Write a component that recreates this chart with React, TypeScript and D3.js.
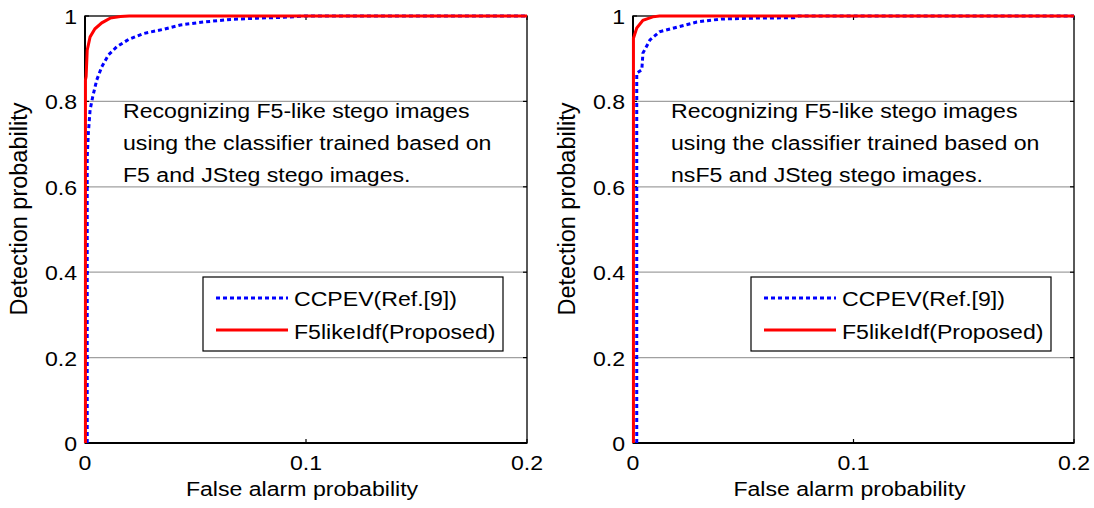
import React from "react";
import * as d3 from "d3";

// axis ticks
const xTicks = [0, 0.1, 0.2];
const yTicks = [0, 0.2, 0.4, 0.6, 0.8, 1];
const gridTicks = [0.2, 0.4, 0.6, 0.8];
const seriesNames = ["CCPEV(Ref.[9])", "F5likeIdf(Proposed)"];

// left panel: classifier trained on F5 + JSteg
const leftCcpevX = [0.001, 0.001, 0.0015, 0.0023, 0.0035, 0.0053, 0.0076, 0.0106, 0.0144, 0.0197, 0.0265, 0.0356, 0.0432, 0.0538, 0.066, 0.078, 0.09, 0.1, 0.2];
const leftCcpevY = [0, 0.67, 0.725, 0.78, 0.811, 0.85, 0.881, 0.909, 0.928, 0.945, 0.959, 0.969, 0.979, 0.986, 0.992, 0.995, 0.997, 1, 1];
const leftPropX = [0.0002, 0.0002, 0.0005, 0.001, 0.0023, 0.0045, 0.0076, 0.0114, 0.016, 0.02, 0.2];
const leftPropY = [0, 0.85, 0.858, 0.92, 0.951, 0.97, 0.984, 0.995, 0.999, 1, 1];

// right panel: classifier trained on nsF5 + JSteg
const rightCcpevX = [0.0017, 0.0017, 0.004, 0.0045, 0.0077, 0.012, 0.02, 0.029, 0.04, 0.055, 0.073, 0.075, 0.2];
const rightCcpevY = [0, 0.866, 0.874, 0.913, 0.944, 0.963, 0.974, 0.986, 0.993, 0.995, 0.996, 1, 1];
const rightPropX = [0.0002, 0.0002, 0.0017, 0.0045, 0.009, 0.012, 0.2];
const rightPropY = [0, 0.948, 0.972, 0.99, 0.998, 1, 1];

const leftNote = ["Recognizing F5-like stego images", "using the classifier trained based on", "F5 and JSteg stego images."];
const rightNote = ["Recognizing F5-like stego images", "using the classifier trained based on", "nsF5 and JSteg stego images."];

const FONT = "'Liberation Sans', Arial, sans-serif";
const FS = 21;
const SX = 1.1; // the original is a bit stretched sideways

function T({ x, y, anchor = "start", children }: any) {
  return (
    <text transform={`translate(${x},${y}) scale(${SX},1)`} textAnchor={anchor}
      fontFamily={FONT} fontSize={FS} fill="#000">
      {children}
    </text>
  );
}

function Panel({ x0, x1, cx, cy, px, py, note }: any) {
  const top = 16, bottom = 443;
  const x = d3.scaleLinear().domain([0, 0.2]).range([x0, x1]);
  const y = d3.scaleLinear().domain([0, 1]).range([bottom, top]);
  const path = (xs: number[], ys: number[]) =>
    d3.line<number>().x((d) => x(d)).y((_, i) => y(ys[i]))(xs) as string;

  const lx = x0 + 118, ly = 277, lw = 300, lh = 74;

  return (
    <g>
      {gridTicks.map((t) => (
        <line key={t} x1={x0} x2={x1} y1={y(t)} y2={y(t)} stroke="#a0a0a0" strokeWidth={1.2} />
      ))}
      {/* box */}
      <rect x={x0} y={top} width={x1 - x0} height={bottom - top} fill="none" stroke="#222" strokeWidth={1.5} />
      <line x1={x0} x2={x0} y1={top} y2={bottom} stroke="#000" strokeWidth={2} />
      <line x1={x0} x2={x1} y1={bottom} y2={bottom} stroke="#000" strokeWidth={2} />
      {yTicks.map((t) => (
        <g key={t}>
          <line x1={x0} x2={x0 + 4} y1={y(t)} y2={y(t)} stroke="#000" strokeWidth={1.2} />
          <line x1={x1} x2={x1 - 4} y1={y(t)} y2={y(t)} stroke="#000" strokeWidth={1.2} />
          <T x={x0 - 8} y={y(t) + 8} anchor="end">{d3.format("~g")(t)}</T>
        </g>
      ))}
      {xTicks.map((t) => (
        <g key={t}>
          <line x1={x(t)} x2={x(t)} y1={bottom} y2={bottom - 4} stroke="#000" strokeWidth={1.2} />
          <line x1={x(t)} x2={x(t)} y1={top} y2={top + 4} stroke="#000" strokeWidth={1.2} />
          <T x={x(t)} y={470} anchor="middle">{d3.format("~g")(t)}</T>
        </g>
      ))}
      <T x={(x0 + x1) / 2 - 4} y={496} anchor="middle">False alarm probability</T>
      <text transform={`translate(${x0 - 58},209) rotate(-90)`} textAnchor="middle"
        fontFamily={FONT} fontSize={23.5} fill="#000">Detection probability</text>

      {note.map((s: string, i: number) => (
        <T key={i} x={x0 + 38} y={118 + i * 32}>{s}</T>
      ))}

      <path d={path(cx, cy)} fill="none" stroke="#0000ff" strokeWidth={3} strokeDasharray="4 3" />
      <path d={path(px, py)} fill="none" stroke="#ff0000" strokeWidth={3} />

      <rect x={lx} y={ly} width={lw} height={lh} fill="#fff" stroke="#000" strokeWidth={1.2} />
      <line x1={lx + 13} x2={lx + 85} y1={ly + 21} y2={ly + 21} stroke="#0000ff" strokeWidth={3} strokeDasharray="4 3" />
      <line x1={lx + 13} x2={lx + 85} y1={ly + 53} y2={ly + 53} stroke="#ff0000" strokeWidth={3} />
      <T x={lx + 91} y={ly + 29}>{seriesNames[0]}</T>
      <T x={lx + 91} y={ly + 62}>{seriesNames[1]}</T>
    </g>
  );
}

export default function App() {
  return (
    <svg width={1094} height={508} style={{ position: "absolute", left: 0, top: 0, background: "#fff" }}>
      <rect width={1094} height={508} fill="#fff" />
      <Panel x0={85} x1={527} cx={leftCcpevX} cy={leftCcpevY} px={leftPropX} py={leftPropY} note={leftNote} />
      <Panel x0={633} x1={1074} cx={rightCcpevX} cy={rightCcpevY} px={rightPropX} py={rightPropY} note={rightNote} />
    </svg>
  );
}
